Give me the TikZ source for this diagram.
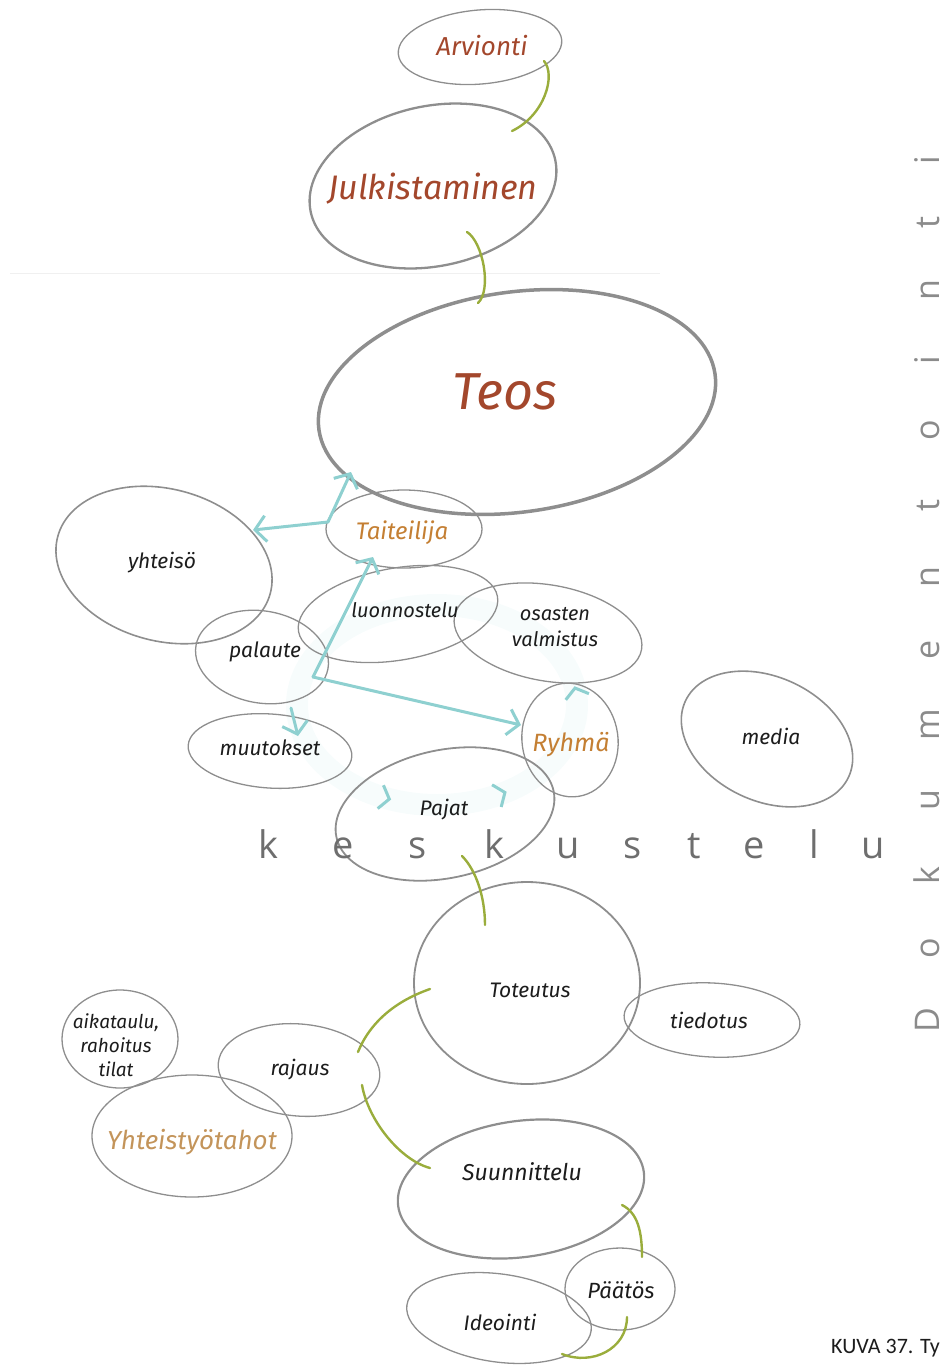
\documentclass[tikz,border=0pt]{standalone}
\usepackage{fontspec}
\setmainfont{Fira Sans}
\newfontfamily\spacedfont{Open Sans}
\newfontfamily\capfont{Carlito}
\usetikzlibrary{shapes.geometric,arrows.meta,decorations.markings}
\definecolor{pencil}{HTML}{8E8E8E}
\definecolor{ink}{HTML}{1C1C1C}
\definecolor{rust}{HTML}{A3472C}
\definecolor{ochre}{HTML}{C47F33}
\definecolor{sand}{HTML}{C3945A}
\definecolor{grass}{HTML}{9AAD3C}
\definecolor{aqua}{HTML}{8ED0D0}
\definecolor{letters}{HTML}{6E6E6E}
\tikzset{
  barb/.tip={Straight Barb[length=11pt,width=26pt]},
  chev/.tip={Straight Barb[length=9pt,width=24pt,line width=3pt,color=aqua]},
}
\begin{document}
\begin{tikzpicture}[x=1pt,y=-1pt,
    blob/.style={ellipse,draw=pencil,line width=1.3pt,inner sep=0pt},
    word/.style={text=ink,align=center},
    link/.style={draw=grass,line width=2.4pt,line cap=round},
    flow/.style={draw=aqua,line width=3pt,line cap=round,line join=round}]
    \useasboundingbox (0,0) rectangle (945,1366);
    \draw[gray!12,line width=0.8pt] (10,273) -- (660,273);
    % haalea kierre
    \draw[aqua!7,line width=22pt] (297,705) arc[start angle=180,end angle=-180,x radius=140,y radius=100];

    % kuplat
    \node[blob,minimum width=164pt,minimum height=74pt,rotate=5] (arvionti) at (480,47) {};
    \node[blob,line width=2.3pt,minimum width=250pt,minimum height=160pt,rotate=12] (julk) at (433,186) {};
    \node[blob,line width=3.5pt,minimum width=400pt,minimum height=220pt,rotate=8] (teos) at (517,402) {};
    \node[blob,minimum width=156pt,minimum height=78pt] (taiteilija) at (404,529) {};
    \node[blob,line width=1.6pt,minimum width=220pt,minimum height=152pt,rotate=-15] (yhteiso) at (164,565) {};
    \node[blob,minimum width=202pt,minimum height=92pt,rotate=10] (luonnostelu) at (398,614) {};
    \node[blob,minimum width=190pt,minimum height=96pt,rotate=-10] (osasten) at (548,633) {};
    \node[blob,minimum width=134pt,minimum height=92pt,rotate=-10] (palaute) at (262,657) {};
    \node[blob,minimum width=164pt,minimum height=74pt,rotate=-4] (muutokset) at (270,751) {};
    \node[blob,minimum width=96pt,minimum height=114pt,rotate=8] (ryhma) at (570,740) {};
    \node[blob,line width=1.8pt,minimum width=222pt,minimum height=128pt,rotate=12] (pajat) at (445,814) {};
    \node[blob,line width=1.6pt,minimum width=180pt,minimum height=124pt,rotate=-25] (media) at (767,739) {};
    \node[blob,line width=1.8pt,minimum width=226pt,minimum height=202pt] (toteutus) at (527,983) {};
    \node[blob,minimum width=176pt,minimum height=74pt,rotate=-3] (tiedotus) at (712,1020) {};
    \node[blob,minimum width=116pt,minimum height=98pt] (aikataulu) at (120,1039) {};
    \node[blob,minimum width=162pt,minimum height=92pt,rotate=-5] (rajaus) at (299,1070) {};
    \node[blob,minimum width=200pt,minimum height=122pt] (yhteistyo) at (192,1136) {};
    \node[blob,line width=2.2pt,minimum width=248pt,minimum height=136pt,rotate=8] (suunnittelu) at (521,1189) {};
    \node[blob,minimum width=110pt,minimum height=82pt] (paatos) at (620,1289) {};
    \node[blob,minimum width=186pt,minimum height=88pt,rotate=-8] (ideointi) at (499,1318) {};

    % tekstit
    \node[word,text=rust,font=\itshape\fontsize{26}{30}\selectfont] (arvionti-t) at (482,46) {Arvionti};
    \node[word,text=rust,font=\itshape\fontsize{34}{38}\selectfont] (julk-t) at (433,189) {Julkistaminen};
    \node[word,text=rust,font=\itshape\fontsize{52}{56}\selectfont] (teos-t) at (505,392) {Teos};
    \node[word,text=ochre,font=\itshape\fontsize{24}{28}\selectfont] (taiteilija-t) at (402,533) {Taiteilija};
    \node[word,font=\itshape\fontsize{21}{24}\selectfont] (yhteiso-t) at (162,563) {yhteisö};
    \node[word,font=\itshape\fontsize{20}{24}\selectfont] (luonnostelu-t) at (405,610) {luonnostelu};
    \node[word,font=\itshape\fontsize{20}{26}\selectfont] (osasten-t) at (555,627) {osasten\\valmistus};
    \node[word,font=\itshape\fontsize{21}{24}\selectfont] (palaute-t) at (265,652) {palaute};
    \node[word,font=\itshape\fontsize{21}{24}\selectfont] (muutokset-t) at (270,748) {muutokset};
    \node[word,text=ochre,font=\itshape\fontsize{25}{28}\selectfont] (ryhma-t) at (571,745) {Ryhmä};
    \node[word,font=\itshape\fontsize{21}{24}\selectfont] (pajat-t) at (444,810) {Pajat};
    \node[word,font=\itshape\fontsize{21}{24}\selectfont] (media-t) at (771,736) {media};
    \node[word,font=\itshape\fontsize{21}{24}\selectfont] (toteutus-t) at (530,990) {Toteutus};
    \node[word,font=\itshape\fontsize{21}{24}\selectfont] (tiedotus-t) at (709,1020) {tiedotus};
    \node[word,font=\itshape\fontsize{19}{24}\selectfont] (aikataulu-t) at (116,1045) {aikataulu,\\rahoitus\\tilat};
    \node[word,font=\itshape\fontsize{21}{24}\selectfont] (rajaus-t) at (300,1070) {rajaus};
    \node[word,text=sand,font=\itshape\fontsize{26}{30}\selectfont] (yhteistyo-t) at (192,1142) {Yhteistyötahot};
    \node[word,font=\itshape\fontsize{23}{26}\selectfont] (suunnittelu-t) at (522,1172) {Suunnittelu};
    \node[word,font=\itshape\fontsize{22}{26}\selectfont] (paatos-t) at (621,1290) {Päätös};
    \node[word,font=\itshape\fontsize{21}{24}\selectfont] (ideointi-t) at (500,1322) {Ideointi};

    % vihreat kaaret
    \draw[link] ([shift={(64,14)}]arvionti.center) .. controls +(12,14) and +(33,-16) .. ([shift={(79,-55)}]julk.center);
    \draw[link] ([shift={(34,46)}]julk.center) .. controls +(16,10) and +(14,-13) .. ([shift={(-39,-99)}]teos.center);
    \draw[link] ([shift={(17,42)}]pajat.center) .. controls +(14,14) and +(0,-28) .. ([shift={(-42,-58)}]toteutus.center);
    \draw[link] ([shift={(-97,6)}]toteutus.center) .. controls +(-40,14) and +(10,-25) .. ([shift={(59,-18)}]rajaus.center);
    \draw[link] ([shift={(63,15)}]rajaus.center) .. controls +(6,35) and +(-30,-8) .. ([shift={(-91,-21)}]suunnittelu.center);
    \draw[link] ([shift={(101,16)}]suunnittelu.center) .. controls +(16,8) and +(0,-25) .. ([shift={(22,-32)}]paatos.center);
    \draw[link] ([shift={(7,28)}]paatos.center) .. controls +(0,32) and +(30,12) .. ([shift={(63,36)}]ideointi.center);

    % syaanit nuolet
    \path[postaction={decorate},decoration={markings,
        mark=at position 0.189 with {\arrow{chev}},
        mark=at position 0.344 with {\arrow{chev}},
        mark=at position 0.525 with {\arrow{chev}}}]
        (297,705) arc[start angle=180,end angle=-180,x radius=140,y radius=100];
    \coordinate (tkulma) at (328,522);
    \coordinate (pkulma) at (313,677);
    \draw[flow,barb-barb] ([shift={(89,-35)}]yhteiso.center) -- (tkulma) -- ([shift={(-166,70)}]teos.center);
    \draw[flow,-barb] (pkulma) -- ([shift={(-31,28)}]taiteilija.center);
    \draw[flow,-barb] (pkulma) -- ([shift={(-49,-15)}]ryhma.center);
    \draw[flow,-barb] ([shift={(29,51)}]palaute.center) -- ([shift={(28,-15)}]muutokset.center);

    % keskustelu ja dokumentointi
    \foreach \x/\c [count=\i] in {268/k,343/e,418/s,494/k,568/u,633/s,694/t,754/e,814/l,873/u}
        \node[anchor=base,text=letters,font=\spacedfont\fontsize{38}{40}\selectfont] (kesk\i) at (\x,858) {\c};
    \foreach \y/\c [count=\i] in {1020/D,948/o,876/k,800/u,725/m,650/e,577/n,505/t,430/o,360/i,290/n,222/t,160/i}
        \node[anchor=base,rotate=90,inner sep=1pt,text=letters!80,font=\spacedfont\fontsize{34}{36}\selectfont] (dok\i) at (939,\y) {\c};

    \node[anchor=base west,inner sep=0pt,text=ink,font=\capfont\fontsize{22}{24}\selectfont] (kuva) at (831,1353) {KUVA 37. Ty};
\end{tikzpicture}
\end{document}
